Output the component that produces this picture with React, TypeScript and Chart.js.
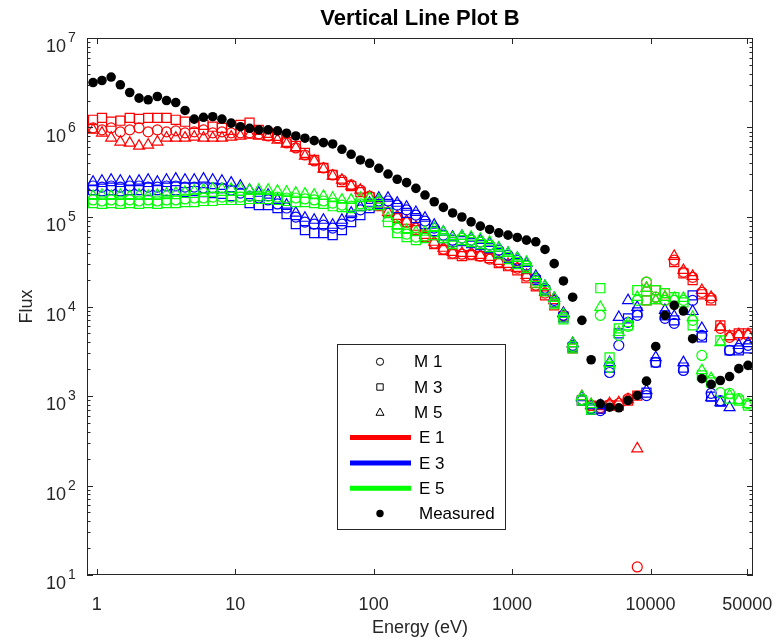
import { useEffect, useRef } from "react";
import { Chart, registerables } from "chart.js";

Chart.register(...registerables);

const FONT = '"Liberation Sans", Arial, Helvetica, sans-serif';
const AXIS_COLOR = "#262626";

const chartTitle = "Vertical Line Plot B";
const xAxisTitle = "Energy (eV)";
const yAxisTitle = "Flux";

const xTickValues = [1, 10, 100, 1000, 10000, 50000];
const xTickLabels = ["1", "10", "100", "1000", "10000", "50000"];
const yTickExponents = [1, 2, 3, 4, 5, 6, 7];

// energy grid (eV)
const energies = [
  0.94, 1.09, 1.27, 1.48, 1.73, 2.02, 2.35, 2.74, 3.19, 3.72,
  4.34, 5.06, 5.9, 6.88, 8.02, 9.35, 10.9, 12.7, 14.8, 17.3,
  20.2, 23.5, 27.4, 31.9, 37.2, 43.4, 50.6, 59.0, 68.8, 80.2,
  93.5, 109, 127, 148, 173, 202, 235, 274, 319, 372,
  434, 506, 590, 688, 802, 935, 1091, 1271, 1483, 1729,
  2015, 2350, 2740, 3194, 3724, 4342, 5062, 5902, 6882, 8023,
  9354, 10910, 12710, 14830, 17290, 20150, 23500, 27400, 31940, 37240, 43420, 50620,
];

const measured = [
  3.18e6, 3.35e6, 3.66e6, 3.0e6, 2.46e6, 2.13e6, 2.04e6, 2.22e6, 2.0e6, 1.9e6,
  1.55e6, 1.24e6, 1.3e6, 1.32e6, 1.24e6, 1.12e6, 1.02e6, 9.8e5, 9.4e5, 9.4e5,
  9.16e5, 8.63e5, 8.05e5, 7.59e5, 7.13e5, 6.77e5, 6.55e5, 5.71e5, 5.02e5, 4.34e5,
  3.98e5, 3.5e5, 3.02e5, 2.64e5, 2.42e5, 2.09e5, 1.76e5, 1.48e5, 1.28e5, 1.11e5,
  1.0e5, 8.83e4, 7.9e4, 7.26e4, 6.65e4, 6.27e4, 5.91e4, 5.51e4, 5.28e4, 4.34e4,
  3.01e4, 1.93e4, 1.27e4, 7.0e3, 2.54e3, 818, 750, 738, 891, 1014,
  1465, 3580, 7960, 10300, 8900, 4370, 1560, 1350, 1490, 1650, 2020, 2200,
];

const redM1 = [
  9.9e5, 9.4e5, 9.9e5, 8.93e5, 9.4e5, 9.9e5, 8.93e5, 9.4e5, 8.93e5, 9.16e5,
  8.7e5, 8.93e5, 9.4e5, 8.7e5, 8.93e5, 8.7e5, 8.7e5, 8.7e5, 8.48e5, 8.05e5,
  7.65e5, 6.72e5, 5.91e5, 4.93e5, 4.23e5, 3.53e5, 2.95e5, 2.59e5, 2.28e5, 2.0e5,
  1.71e5, 1.36e5, 1.13e5, 9.97e4, 8.77e4, 7.51e4, 6.11e4, 5.1e4, 4.37e4, 3.94e4,
  3.84e4, 3.84e4, 3.65e4, 3.38e4, 3.13e4, 2.89e4, 2.68e4, 2.18e4, 1.73e4, 1.41e4,
  1.11e4, 7970, 3580, 912, 783, 743, 803, 824, 935, 12.3,
  1.87e4, 1.27e4, 1.17e4, 3.29e4, 2.42e4, 2.12e4, 1.44e4, 1.24e4, 5700, 4520, 4760, 4760,
];
const redM3 = [
  1.22e6, 1.28e6, 1.16e6, 1.19e6, 1.28e6, 1.25e6, 1.28e6, 1.28e6, 1.28e6, 1.22e6,
  1.16e6, 1.1e6, 1.07e6, 1.02e6, 9.9e5, 9.4e5, 1.07e6, 1.13e6, 9.4e5, 8.7e5,
  8.05e5, 6.9e5, 6.22e5, 5.2e5, 4.34e5, 3.53e5, 2.95e5, 2.46e5, 2.22e5, 1.9e5,
  1.67e5, 1.32e5, 1.11e5, 9.72e4, 8.77e4, 7.13e4, 5.96e4, 4.97e4, 4.26e4, 3.84e4,
  3.65e4, 3.74e4, 3.65e4, 3.47e4, 3.05e4, 2.82e4, 2.54e4, 2.07e4, 1.68e4, 1.33e4,
  1.03e4, 7770, 3400, 890, 783, 725, 783, 783, 890, 1010,
  1.17e4, 1.52e4, 1.41e4, 3.13e4, 2.35e4, 1.97e4, 1.37e4, 1.17e4, 6160, 4760, 5010, 5010,
];
const redM5 = [
  9.4e5, 8.7e5, 7.65e5, 6.9e5, 6.72e5, 6.22e5, 6.39e5, 6.9e5, 7.65e5, 7.65e5,
  7.65e5, 7.85e5, 7.65e5, 7.65e5, 7.65e5, 7.85e5, 8.05e5, 8.26e5, 8.05e5, 7.85e5,
  7.26e5, 6.55e5, 5.91e5, 4.81e5, 4.23e5, 3.44e5, 2.87e5, 2.59e5, 2.22e5, 2.0e5,
  1.67e5, 1.36e5, 1.13e5, 1.02e5, 9.0e4, 7.71e4, 6.27e4, 5.24e4, 4.49e4, 4.05e4,
  3.94e4, 3.94e4, 3.74e4, 3.56e4, 3.21e4, 2.97e4, 2.68e4, 2.24e4, 1.77e4, 1.44e4,
  1.17e4, 8390, 3870, 985, 803, 763, 824, 846, 912, 258,
  1.6e4, 1.17e4, 1.27e4, 3.65e4, 2.54e4, 2.18e4, 1.52e4, 1.27e4, 5850, 4640, 4880, 4880,
];

const blueM1 = [
  2.22e5, 2.16e5, 2.22e5, 2.16e5, 2.22e5, 2.22e5, 2.16e5, 2.16e5, 2.22e5, 2.22e5,
  2.16e5, 2.16e5, 2.11e5, 2.11e5, 2.11e5, 2.0e5, 1.85e5, 1.71e5, 1.63e5, 1.55e5,
  1.4e5, 1.26e5, 9.97e4, 8.77e4, 8.33e4, 8.12e4, 7.51e4, 8.33e4, 1.02e5, 1.2e5,
  1.36e5, 1.51e5, 1.51e5, 1.36e5, 1.2e5, 1.05e5, 9.0e4, 7.51e4, 6.27e4, 5.51e4,
  5.81e4, 5.51e4, 5.24e4, 4.85e4, 4.26e4, 3.74e4, 3.29e4, 2.89e4, 2.07e4, 1.6e4,
  1.17e4, 7970, 3680, 912, 725, 688, 1830, 3680, 6650, 7970,
  1010, 2370, 7380, 6480, 1930, 1.17e4, 4760, 1070, 890, 3230, 3400, 3680,
];
const blueM3 = [
  2.0e5, 1.95e5, 2.0e5, 1.95e5, 2.0e5, 2.0e5, 1.95e5, 2.0e5, 1.95e5, 2.0e5,
  1.9e5, 1.95e5, 1.9e5, 1.85e5, 1.81e5, 1.71e5, 1.55e5, 1.43e5, 1.36e5, 1.36e5,
  1.26e5, 1.08e5, 8.33e4, 7.13e4, 6.6e4, 6.6e4, 6.27e4, 7.13e4, 8.77e4, 1.05e5,
  1.26e5, 1.4e5, 1.4e5, 1.26e5, 1.11e5, 9.72e4, 8.33e4, 6.95e4, 5.81e4, 5.24e4,
  5.37e4, 5.1e4, 4.85e4, 4.49e4, 3.94e4, 3.47e4, 3.05e4, 2.68e4, 1.97e4, 1.52e4,
  1.11e4, 7570, 3490, 890, 706, 725, 2080, 5010, 7380, 8610,
  1090, 2370, 7970, 7000, 2080, 1.33e4, 4520, 985, 868, 3230, 3230, 3400,
];
const blueM5 = [
  2.46e5, 2.52e5, 2.59e5, 2.52e5, 2.46e5, 2.52e5, 2.59e5, 2.46e5, 2.59e5, 2.66e5,
  2.59e5, 2.59e5, 2.66e5, 2.59e5, 2.52e5, 2.4e5, 2.22e5, 2.0e5, 1.85e5, 1.76e5,
  1.55e5, 1.36e5, 1.11e5, 9.72e4, 9.23e4, 9.23e4, 8.12e4, 9.23e4, 1.11e5, 1.29e5,
  1.43e5, 1.63e5, 1.63e5, 1.43e5, 1.29e5, 1.13e5, 9.72e4, 8.12e4, 6.78e4, 5.96e4,
  6.11e4, 5.81e4, 5.51e4, 5.1e4, 4.49e4, 3.94e4, 3.47e4, 3.05e4, 2.18e4, 1.68e4,
  1.24e4, 8390, 3870, 960, 783, 783, 2370, 7570, 1.17e4, 9790,
  1150, 2700, 9070, 7770, 2370, 8830, 5700, 960, 846, 743, 3680, 3870,
];

const greenM1 = [
  1.55e5, 1.51e5, 1.55e5, 1.51e5, 1.55e5, 1.51e5, 1.55e5, 1.51e5, 1.55e5, 1.55e5,
  1.59e5, 1.63e5, 1.63e5, 1.67e5, 1.67e5, 1.67e5, 1.67e5, 1.71e5, 1.71e5, 1.71e5,
  1.67e5, 1.63e5, 1.63e5, 1.59e5, 1.55e5, 1.51e5, 1.43e5, 1.36e5, 1.32e5, 1.4e5,
  1.43e5, 1.47e5, 1.13e5, 7.51e4, 6.44e4, 5.96e4, 6.11e4, 6.78e4, 6.11e4, 5.24e4,
  5.81e4, 5.51e4, 5.24e4, 4.85e4, 4.05e4, 3.56e4, 3.13e4, 2.82e4, 1.92e4, 1.56e4,
  1.11e4, 7570, 3580, 912, 743, 7970, 2080, 4760, 6000, 1.17e4,
  1.87e4, 1.27e4, 1.17e4, 1.17e4, 1.17e4, 7000, 2840, 1490, 1090, 1070, 935, 824,
];
const greenM3 = [
  1.43e5, 1.4e5, 1.43e5, 1.4e5, 1.43e5, 1.4e5, 1.43e5, 1.4e5, 1.43e5, 1.43e5,
  1.47e5, 1.47e5, 1.51e5, 1.51e5, 1.55e5, 1.55e5, 1.55e5, 1.59e5, 1.59e5, 1.59e5,
  1.55e5, 1.51e5, 1.47e5, 1.47e5, 1.43e5, 1.4e5, 1.32e5, 1.29e5, 1.26e5, 1.32e5,
  1.36e5, 1.36e5, 8.77e4, 6.6e4, 5.96e4, 5.51e4, 5.81e4, 6.27e4, 5.81e4, 4.97e4,
  5.51e4, 5.24e4, 4.97e4, 4.6e4, 3.84e4, 3.38e4, 2.97e4, 2.68e4, 1.82e4, 1.48e4,
  1.06e4, 7190, 3400, 890, 706, 1.6e4, 2700, 5700, 6160, 1.52e4,
  1.17e4, 1.52e4, 1.41e4, 1.27e4, 1.11e4, 6160, 1700, 1420, 4180, 935, 890, 783,
];
const greenM5 = [
  1.71e5, 1.76e5, 1.71e5, 1.76e5, 1.71e5, 1.76e5, 1.71e5, 1.76e5, 1.81e5, 1.85e5,
  1.9e5, 1.95e5, 2.0e5, 2.05e5, 2.05e5, 2.05e5, 2.05e5, 2.0e5, 2.0e5, 2.0e5,
  1.95e5, 1.9e5, 1.85e5, 1.81e5, 1.76e5, 1.71e5, 1.63e5, 1.55e5, 1.55e5, 1.63e5,
  1.63e5, 1.55e5, 9.72e4, 7.91e4, 7.13e4, 6.78e4, 6.78e4, 7.51e4, 6.78e4, 5.81e4,
  6.11e4, 5.96e4, 5.66e4, 5.24e4, 4.49e4, 3.94e4, 3.47e4, 3.13e4, 2.07e4, 1.68e4,
  1.24e4, 8180, 3870, 985, 803, 9790, 2310, 5140, 6480, 1.27e4,
  1.6e4, 1.17e4, 1.27e4, 1.24e4, 1.24e4, 7570, 1930, 1570, 3970, 1010, 890, 803,
];

const legendEntries = [
  { label: "M 1", kind: "circle" },
  { label: "M 3", kind: "square" },
  { label: "M 5", kind: "triangle" },
  { label: "E 1", kind: "line", color: "#ff0000" },
  { label: "E 3", kind: "line", color: "#0000ff" },
  { label: "E 5", kind: "line", color: "#00ff00" },
  { label: "Measured", kind: "dot" },
];

const RED = "#ff0000";
const BLUE = "#0000ff";
const GREEN = "#00ff00";

function toPoints(vals: number[]) {
  return energies.map((e, i) => ({ x: e, y: vals[i] }));
}

function markerRadius(style: string) {
  if (style === "rect") return 6.4;
  if (style === "triangle") return 6.3;
  return 5;
}

function markerSet(label: string, vals: number[], color: string, style: string, order: number) {
  return {
    label,
    data: toPoints(vals),
    pointStyle: style,
    borderColor: color,
    backgroundColor: "rgba(0,0,0,0)",
    pointBorderColor: color,
    pointBackgroundColor: "rgba(0,0,0,0)",
    pointRadius: markerRadius(style),
    pointBorderWidth: 1.2,
    showLine: false,
    order,
  };
}

const axesPlugin = {
  id: "matlabAxes",
  afterDraw(chart: any) {
    const { ctx, chartArea, scales } = chart;
    const { left, right, top, bottom } = chartArea;
    const xs = scales.x;
    const ys = scales.y;
    ctx.save();
    ctx.strokeStyle = AXIS_COLOR;
    ctx.lineWidth = 1;

    // ticks
    ctx.beginPath();
    for (const v of xTickValues) {
      const px = Math.round(xs.getPixelForValue(v)) + 0.5;
      ctx.moveTo(px, bottom);
      ctx.lineTo(px, bottom - 6);
      ctx.moveTo(px, top);
      ctx.lineTo(px, top + 6);
    }
    for (const n of yTickExponents) {
      for (let m = 1; m <= 9; m++) {
        if (n === 7 && m > 1) break;
        const py = Math.round(ys.getPixelForValue(m * Math.pow(10, n))) + 0.5;
        const len = m === 1 ? 6 : 3.5;
        ctx.moveTo(left, py);
        ctx.lineTo(left + len, py);
        ctx.moveTo(right, py);
        ctx.lineTo(right - len, py);
      }
    }
    ctx.stroke();

    // box
    ctx.strokeRect(Math.round(left) + 0.5, Math.round(top) + 0.5, Math.round(right - left) - 1, Math.round(bottom - top) - 1);

    // x tick labels
    ctx.fillStyle = AXIS_COLOR;
    ctx.font = `18px ${FONT}`;
    ctx.textAlign = "center";
    ctx.textBaseline = "alphabetic";
    xTickValues.forEach((v, i) => {
      ctx.fillText(xTickLabels[i], xs.getPixelForValue(v), 610);
    });

    // y tick labels
    for (const n of yTickExponents) {
      const py = ys.getPixelForValue(Math.pow(10, n));
      ctx.font = `18px ${FONT}`;
      ctx.textAlign = "right";
      ctx.fillText("10", 66, py + 14);
      ctx.font = `14px ${FONT}`;
      ctx.textAlign = "left";
      ctx.fillText(String(n), 68, py + 4);
    }

    // axis titles
    ctx.font = `18px ${FONT}`;
    ctx.textAlign = "center";
    ctx.fillText(xAxisTitle, (left + right) / 2, 633);
    ctx.save();
    ctx.translate(31.5, (top + bottom) / 2);
    ctx.rotate(-Math.PI / 2);
    ctx.fillText(yAxisTitle, 0, 0);
    ctx.restore();

    // title
    ctx.fillStyle = "#000";
    ctx.font = `bold 22px ${FONT}`;
    ctx.fillText(chartTitle, (left + right) / 2, 25);

    // legend
    const bx = 337.5, by = 344.5, bw = 168, bh = 185;
    ctx.fillStyle = "#ffffff";
    ctx.fillRect(bx, by, bw, bh);
    ctx.strokeStyle = AXIS_COLOR;
    ctx.lineWidth = 1;
    ctx.strokeRect(bx, by, bw, bh);
    legendEntries.forEach((en, i) => {
      const cy = 361.7 + i * 25.3;
      const mx = 380;
      ctx.strokeStyle = "#000";
      ctx.fillStyle = "#000";
      ctx.lineWidth = 1;
      ctx.beginPath();
      if (en.kind === "circle") {
        ctx.arc(mx, cy, 3.6, 0, Math.PI * 2);
        ctx.stroke();
      } else if (en.kind === "square") {
        ctx.rect(mx - 3.2, cy - 3.2, 6.4, 6.4);
        ctx.stroke();
      } else if (en.kind === "triangle") {
        ctx.moveTo(mx, cy - 4.3);
        ctx.lineTo(mx + 4, cy + 3);
        ctx.lineTo(mx - 4, cy + 3);
        ctx.closePath();
        ctx.stroke();
      } else if (en.kind === "line") {
        ctx.strokeStyle = en.color;
        ctx.lineWidth = 5;
        ctx.moveTo(350, cy);
        ctx.lineTo(411, cy);
        ctx.stroke();
      } else {
        ctx.arc(mx, cy, 3.7, 0, Math.PI * 2);
        ctx.fill();
      }
      ctx.fillStyle = "#000";
      ctx.font = `17px ${FONT}`;
      ctx.textAlign = "left";
      ctx.textBaseline = "middle";
      const tx = en.kind === "circle" || en.kind === "square" || en.kind === "triangle" ? 414 : 419;
      ctx.fillText(en.label, tx, cy + 1);
      ctx.textBaseline = "alphabetic";
    });

    ctx.restore();
  },
};

export default function App() {
  const canvasRef = useRef<HTMLCanvasElement | null>(null);

  useEffect(() => {
    const canvas = canvasRef.current;
    if (!canvas) return;
    const chart = new Chart(canvas, {
      type: "scatter",
      data: {
        datasets: [
          {
            label: "Measured",
            data: toPoints(measured),
            pointStyle: "circle",
            pointRadius: 4.8,
            pointBorderWidth: 0,
            borderColor: "#000",
            backgroundColor: "#000",
            pointBackgroundColor: "#000",
            pointBorderColor: "#000",
            showLine: false,
            order: 0,
          } as any,
          markerSet("E 5 M 5", greenM5, GREEN, "triangle", 1),
          markerSet("E 5 M 3", greenM3, GREEN, "rect", 2),
          markerSet("E 5 M 1", greenM1, GREEN, "circle", 3),
          markerSet("E 3 M 5", blueM5, BLUE, "triangle", 4),
          markerSet("E 3 M 3", blueM3, BLUE, "rect", 5),
          markerSet("E 3 M 1", blueM1, BLUE, "circle", 6),
          markerSet("E 1 M 5", redM5, RED, "triangle", 7),
          markerSet("E 1 M 3", redM3, RED, "rect", 8),
          markerSet("E 1 M 1", redM1, RED, "circle", 9),
        ],
      },
      options: {
        responsive: false,
        animation: false,
        events: [],
        layout: { padding: { left: 87, right: 26, top: 38, bottom: 65 } },
        scales: {
          x: { type: "logarithmic", min: 0.85, max: 55000, display: false },
          y: { type: "logarithmic", min: 10, max: 1e7, display: false },
        },
        plugins: {
          legend: { display: false },
          title: { display: false },
          tooltip: { enabled: false },
        },
      },
      plugins: [axesPlugin],
    } as any);
    return () => chart.destroy();
  }, []);

  return (
    <div style={{ position: "absolute", left: 0, top: 0, width: 779, height: 640, background: "#fff" }}>
      <canvas ref={canvasRef} width={779} height={640} style={{ display: "block", width: 779, height: 640 }} />
    </div>
  );
}
